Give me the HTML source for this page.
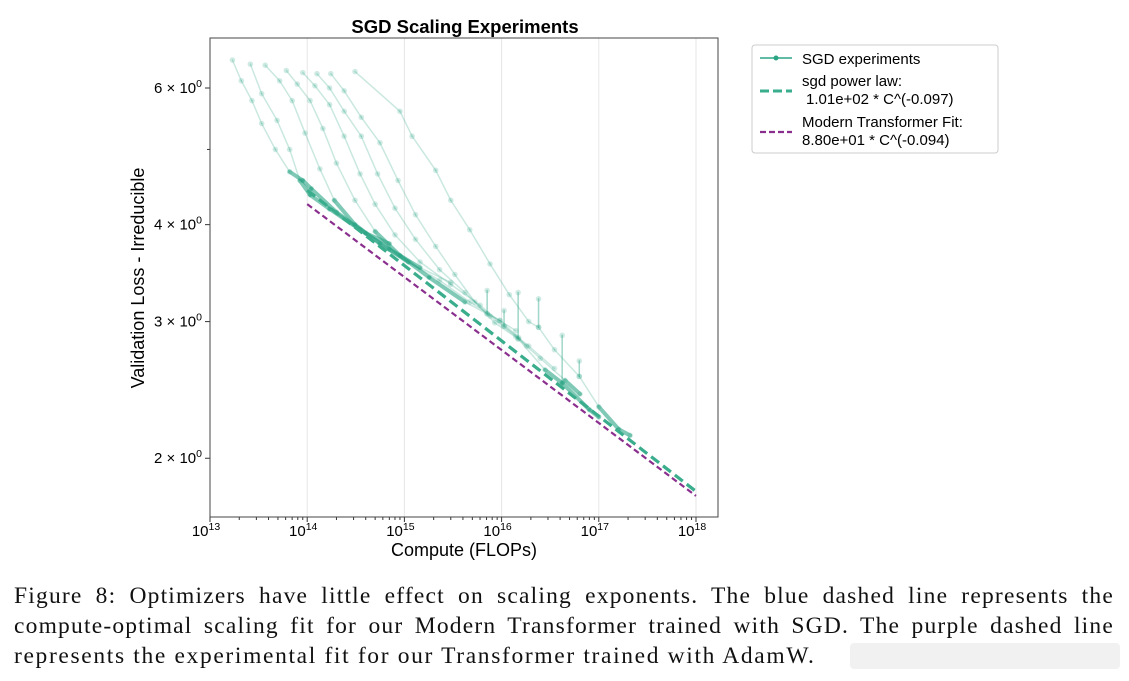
<!DOCTYPE html>
<html><head><meta charset="utf-8"><style>
body{margin:0;background:#fff;width:1129px;height:681px;overflow:hidden;position:relative}
.cap{position:absolute;left:14px;width:1100px;font-family:"Liberation Serif",serif;font-size:23.5px;line-height:30px;color:#111;white-space:nowrap;letter-spacing:1.65px}
.j{text-align:justify;text-align-last:justify;letter-spacing:1.2px}
</style></head><body>
<svg id="chart" width="1129" height="575" style="position:absolute;left:0;top:0" font-family="Liberation Sans, DejaVu Sans, sans-serif">
<text x="465" y="33" text-anchor="middle" font-size="18.5" font-weight="bold">SGD Scaling Experiments</text>
<g id="grid"></g><g id="series"></g><g id="fits"></g><g id="axes"></g>
<text x="464" y="556" text-anchor="middle" font-size="18">Compute (FLOPs)</text>
<text transform="translate(144,278) rotate(-90)" text-anchor="middle" font-size="18">Validation Loss - Irreducible</text>
<g>
<rect x="752" y="45" width="246" height="108" fill="#fff" stroke="#ccc" rx="3"/>
<line x1="760" y1="58" x2="792" y2="58" stroke="#2ba585" stroke-width="1.5"/><circle cx="776" cy="58" r="2.5" fill="#2ba585"/>
<text x="802" y="64" font-size="15">SGD experiments</text>
<line x1="760" y1="91" x2="792" y2="91" stroke="#3aad8c" stroke-width="3" stroke-dasharray="9,4"/>
<text x="802" y="86" font-size="15">sgd power law:</text><text x="806" y="104" font-size="15">1.01e+02 * C^(-0.097)</text>
<line x1="760" y1="132" x2="792" y2="132" stroke="#8b2f8e" stroke-width="2.2" stroke-dasharray="6,3"/>
<text x="802" y="127" font-size="15">Modern Transformer Fit:</text><text x="802" y="145" font-size="15">8.80e+01 * C^(-0.094)</text>
</g>
</svg>
<div>
<div class="cap j" style="top:581px">Figure 8: Optimizers have little effect on scaling exponents. The blue dashed line represents the</div>
<div class="cap j" style="top:611px">compute-optimal scaling fit for our Modern Transformer trained with SGD. The purple dashed line</div>
<div class="cap" style="top:641px">represents the experimental fit for our Transformer trained with AdamW.</div>
</div>
<div style="position:absolute;left:850px;top:643px;width:270px;height:26px;background:#f1f1f1;border-radius:4px"></div>
<script>
const run1=[[1.7e13,6.52],[2.1e13,6.13],[2.7e13,5.78],[3.4e13,5.4],[4.7e13,5.0],[6.6e13,4.68],[9e13,4.56],[1.1e14,4.45],[2e14,4.15],[4e14,3.9],[7e14,3.78]];
const run2=[[2.6e13,6.44],[3.4e13,5.9],[4.9e13,5.45],[6.6e13,5.0],[8.4e13,4.56],[1.07e14,4.37],[1.7e14,4.19],[3.5e14,3.94],[7e14,3.72],[1.45e15,3.52],[3e15,3.37]];
const run3=[[3.7e13,6.42],[5.2e13,6.13],[7e13,5.78],[9.5e13,5.25],[1.35e14,4.72],[1.9e14,4.3],[3.1e14,4.0],[5.6e14,3.78],[1.1e15,3.58],[2.3e15,3.39],[4.7e15,3.18],[9.6e15,3.01],[1.4e16,2.92]];
const run4=[[6.1e13,6.32],[7.9e13,6.07],[1.07e14,5.78],[1.45e14,5.32],[2e14,4.8],[3.1e14,4.3],[5e14,3.92],[9e14,3.65],[1.8e15,3.42],[4.2e15,3.18],[7.1e15,3.07],[7.1e15,3.29],[7.1e15,3.07],[9.6e15,3.01],[1.5e16,2.86],[1.8e16,2.79]];
const run5=[[9e13,6.28],[1.2e14,6.04],[1.7e14,5.71],[2.4e14,5.2],[3.5e14,4.65],[5e14,4.25],[8e14,3.88],[1.45e15,3.58],[3e15,3.35],[6e15,3.15],[1.06e16,2.96],[1.06e16,3.10],[1.06e16,2.96],[1.9e16,2.79],[3.5e16,2.61]];
const run6=[[1.26e14,6.26],[1.7e14,6.0],[2.4e14,5.6],[3.6e14,5.2],[5.3e14,4.65],[8e14,4.2],[1.3e15,3.83],[2.3e15,3.5],[4.2e15,3.27],[7.6e15,3.05],[1.4e16,2.87],[2.5e16,2.69],[4.5e16,2.52],[6.4e16,2.42]];
const run7=[[1.75e14,6.26],[2.4e14,5.95],[3.6e14,5.5],[5.6e14,5.1],[8.6e14,4.56],[1.3e15,4.12],[2.1e15,3.75],[3.3e15,3.45],[5.3e15,3.18],[8.5e15,2.99],[1.48e16,2.85],[1.48e16,3.27],[1.48e16,2.85],[2.8e16,2.6],[4.2e16,2.5],[4.2e16,2.88],[4.2e16,2.5],[8e16,2.31],[1e17,2.26]];
const run8=[[3.1e14,6.3],[9e14,5.6],[1.2e15,5.2],[2.1e15,4.7],[3e15,4.3],[4.7e15,3.94],[7.6e15,3.56],[1.2e16,3.25],[1.9e16,3.0],[2.4e16,2.95],[2.4e16,3.21],[2.4e16,2.95],[3.5e16,2.76],[6.3e16,2.55],[6.3e16,2.67],[6.3e16,2.55],[1e17,2.33],[1.6e17,2.18],[2.1e17,2.14]];
const runs=[run1,run2,run3,run4,run5,run6,run7,run8];
const sgdFit=[101,-0.097];
const adamFit=[88,-0.094];
const fitRange=[1e14,1e18];
const xTicks=[13,14,15,16,17,18];
const yTicks=[2,3,4,6];
const yMinor=[5];

const NS="http://www.w3.org/2000/svg";
const X0=210,XD=97.2,YREF=88,YS=776,LREF=Math.log10(6);
const sx=c=>X0+(Math.log10(c)-13)*XD;
const sy=v=>YREF+(LREF-Math.log10(v))*YS;
const L=210,R=718,T=38,B=517;
function mk(tag,attrs,parent){const e=document.createElementNS(NS,tag);for(const k in attrs)e.setAttribute(k,attrs[k]);parent.appendChild(e);return e;}
const grid=document.getElementById('grid'),axes=document.getElementById('axes'),ser=document.getElementById('series'),fits=document.getElementById('fits');
xTicks.forEach(t=>{const x=X0+(t-13)*XD;
 const g=mk('line',{x1:x,x2:x,y1:T,y2:B,stroke:'#e6e6e6','stroke-width':1},grid);
 
 
 mk('line',{x1:x,x2:x,y1:B,y2:B+5,stroke:'#333'},axes);
 const tx=mk('text',{x:x-4,y:B+19,'text-anchor':'middle','font-size':15},axes);
 
 
 tx.innerHTML='10<tspan dy="-6" font-size="10.5">'+t+'</tspan>';
 if(t<18)for(let m=2;m<10;m++){const xm=X0+(t-13+Math.log10(m))*XD;mk('line',{x1:xm,x2:xm,y1:B,y2:B+3,stroke:'#333'},axes);}
});
yTicks.forEach(v=>{const y=sy(v);
 mk('line',{x1:L-5,x2:L,y1:y,y2:y,stroke:'#333'},axes);
 const tx=mk('text',{x:L-8,y:y+5,'text-anchor':'end','font-size':15},axes);
 
 
 tx.innerHTML=v+' × 10<tspan dy="-6" font-size="10.5">0</tspan>';
});
yMinor.forEach(v=>{const y=sy(v);mk('line',{x1:L-3,x2:L,y1:y,y2:y,stroke:'#333'},axes);});
const frame=mk('rect',{x:L,y:T,width:R-L,height:B-T,fill:'none',stroke:'#444','stroke-width':1},axes);


const fit=(p,c)=>p[0]*Math.pow(c,p[1]);
runs.forEach((r,i)=>{
 const g=mk('g',{},ser);
 
 
 for(let j=1;j<r.length;j++){const a=r[j-1],b=r[j];
  const near=a[1]<=1.035*fit(sgdFit,a[0])&&b[1]<=1.035*fit(sgdFit,b[0]);
  mk('line',{x1:sx(a[0]),y1:sy(a[1]),x2:sx(b[0]),y2:sy(b[1]),stroke:'#2ba585','stroke-opacity':near?0.6:0.25,'stroke-width':near?4:1.5,'stroke-linecap':'round'},g);}
 r.forEach(p=>{mk('circle',{cx:sx(p[0]),cy:sy(p[1]),r:2.8,fill:'#2ba585','fill-opacity':0.22},g);});
});
function drawFit(p,color,w,dash,name){
 const c0=fitRange[0],c1=fitRange[1];
 const l=mk('line',{x1:sx(c0),y1:sy(fit(p,c0)),x2:sx(c1),y2:sy(fit(p,c1)),stroke:color,'stroke-width':w,'stroke-dasharray':dash},fits);
 
 
}
drawFit(sgdFit,'#3aad8c',3.2,'10,5','sgd-power-law-line');
drawFit(adamFit,'#8b2f8e',2.2,'6,3.5','modern-transformer-fit-line');
</script>
</body></html>
